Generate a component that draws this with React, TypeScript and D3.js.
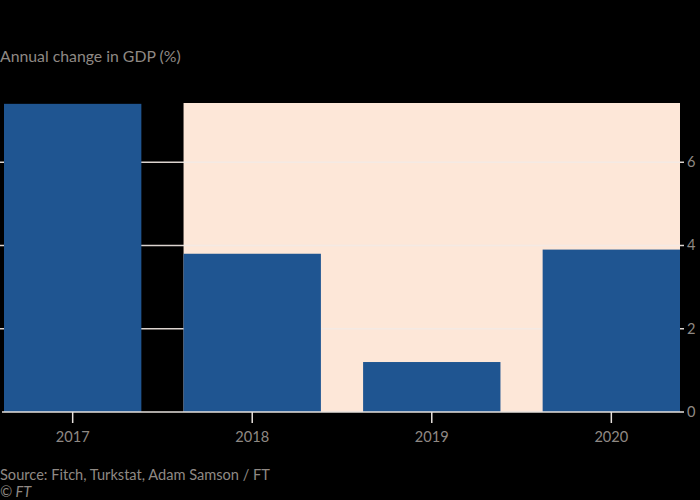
import React from "react";
import * as d3 from "d3";

const years = ["2017", "2018", "2019", "2020"];
const gdpChange = [7.4, 3.8, 1.2, 3.9];
const yTicks = [0, 2, 4, 6];
const shadedYears = ["2018", "2019", "2020"];

export default function App() {
  const W = 700, H = 500;
  const left = 4, right = 680, top = 103, bottom = 412;
  const x = d3.scaleBand<string>().domain(years).range([left, right]).paddingInner(0.235).paddingOuter(0);
  const y = d3.scaleLinear().domain([0, 7.42]).range([bottom, top]);
  const textColor = "#8f8984";
  const font = "Lato, 'Open Sans', sans-serif";
  const shadeX0 = x(shadedYears[0])!;

  return (
    <svg width={W} height={H} style={{ position: "absolute", left: 0, top: 0, display: "block" }} fontFamily={font}>
      <rect x={0} y={0} width={W} height={H} fill="#000" />
      <text x={0} y={62} fill={textColor} fontSize={15.8}>Annual change in GDP (%)</text>
      <rect x={shadeX0} y={y(7.42)} width={right - shadeX0} height={bottom - y(7.42)} fill="#fde7d8" />
      {yTicks.filter(t => t > 0).map(t => (
        <line key={t} x1={0} x2={684} y1={y(t)} y2={y(t)} stroke="#f4ebe6" strokeWidth={1.5} opacity={0.9} />
      ))}
      {years.map((yr, i) => (
        <rect key={yr} x={x(yr)} y={y(gdpChange[i])} width={x.bandwidth()} height={bottom - y(gdpChange[i])} fill="#1f5591" />
      ))}
      <line x1={2} x2={684} y1={bottom} y2={bottom} stroke="#e6e0dc" strokeWidth={1.5} />
      {years.map(yr => {
        const cx = x(yr)! + x.bandwidth() / 2;
        return (
          <g key={yr}>
            <line x1={cx} x2={cx} y1={bottom} y2={bottom + 11} stroke="#e6e0dc" strokeWidth={1.5} />
            <text x={cx} y={442} fill={textColor} fontSize={14.6} textAnchor="middle">{yr}</text>
          </g>
        );
      })}
      {yTicks.map(t => (
        <text key={t} x={687} y={y(t) + 5} fill={textColor} fontSize={14.6}>{t}</text>
      ))}
      <text x={0} y={480} fill={textColor} fontSize={14.6}>Source: Fitch, Turkstat, Adam Samson / FT</text>
      <text x={0} y={497} fill={textColor} fontSize={14.6} fontStyle="italic">© FT</text>
    </svg>
  );
}
